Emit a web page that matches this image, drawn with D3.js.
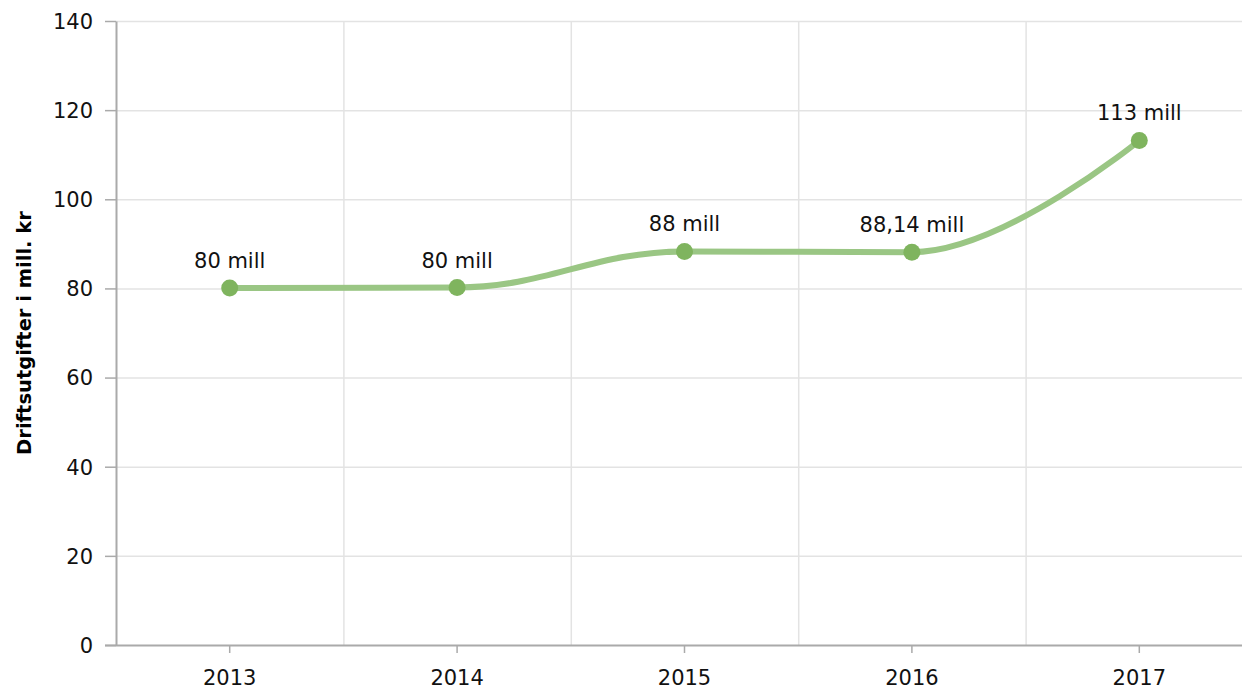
<!DOCTYPE html>
<html>
<head>
<meta charset="utf-8">
<script src="https://cdn.jsdelivr.net/npm/d3@7"></script>
<style>
	body { margin: 0; background: #fff; }
	svg { display: block; }
	svg text { font-family: Verdana, "DejaVu Sans", sans-serif; }
</style>
</head>
<body>
<div id="chart"></div>
<script>
// data
var years      = ['2013', '2014', '2015', '2016', '2017'];
var spending   = [80.1, 80.2, 88.3, 88.14, 113.2];
var labels     = ['80 mill', '80 mill', '88 mill', '88,14 mill', '113 mill'];
var yTicks     = [0, 20, 40, 60, 80, 100, 120, 140];
var yTitle     = 'Driftsutgifter i mill. kr';

var W = 1242, H = 690;
var margin = {top: 21, left: 116, bottom: 45};
var plotRight = 1253;
var fontSize = '21px';

var svg = d3.select('#chart').append('svg')
	.attr('width', W)
	.attr('height', H);

var x = d3.scaleBand().domain(years).range([margin.left, plotRight]);
var y = d3.scaleLinear().domain([0, 140]).range([H - margin.bottom, margin.top]);

function cx (d) { return x(d.year) + x.bandwidth() / 2; }
function cy (d) { return y(d.value); }

// spline path with clamped control points (no overshoot at local extremes)
function splinePath (pts) {
	var p = pts.map(function (d) { return [cx(d), cy(d)]; });
	var ctl = p.map(function (pt, i) {
		if (i === 0 || i === p.length - 1) return null;
		var l = p[i - 1], n = p[i + 1];
		var lx = (1.5 * pt[0] + l[0]) / 2.5, ly = (1.5 * pt[1] + l[1]) / 2.5,
			rx = (1.5 * pt[0] + n[0]) / 2.5, ry = (1.5 * pt[1] + n[1]) / 2.5;
		var corr = ((ry - ly) * (rx - pt[0])) / (rx - lx) + pt[1] - ry;
		ly += corr; ry += corr;
		if (ly > l[1] && ly > pt[1]) { ly = Math.max(l[1], pt[1]); ry = 2 * pt[1] - ly; }
		else if (ly < l[1] && ly < pt[1]) { ly = Math.min(l[1], pt[1]); ry = 2 * pt[1] - ly; }
		if (ry > n[1] && ry > pt[1]) { ry = Math.max(n[1], pt[1]); ly = 2 * pt[1] - ry; }
		else if (ry < n[1] && ry < pt[1]) { ry = Math.min(n[1], pt[1]); ly = 2 * pt[1] - ry; }
		return {lx: lx, ly: ly, rx: rx, ry: ry};
	});
	var path = d3.path();
	path.moveTo(p[0][0], p[0][1]);
	for (var i = 1; i < p.length; i++) {
		var a = ctl[i - 1], b = ctl[i];
		path.bezierCurveTo(
			a ? a.rx : p[i - 1][0], a ? a.ry : p[i - 1][1],
			b ? b.lx : p[i][0], b ? b.ly : p[i][1],
			p[i][0], p[i][1]);
	}
	return path.toString();
}

// grid
svg.append('g')
	.selectAll('line')
	.data(yTicks.slice(1))
	.enter().append('line')
		.attr('x1', margin.left).attr('x2', W)
		.attr('y1', function (d) { return y(d) + 0.5; })
		.attr('y2', function (d) { return y(d) + 0.5; })
		.style('stroke', '#e3e3e3').style('stroke-width', 1.5);

svg.append('g')
	.selectAll('line')
	.data(years.slice(1))
	.enter().append('line')
		.attr('x1', function (d) { return x(d) + 0.5; })
		.attr('x2', function (d) { return x(d) + 0.5; })
		.attr('y1', y(140)).attr('y2', y(0))
		.style('stroke', '#e3e3e3').style('stroke-width', 1.5);

// axes
var yAxis = svg.append('g')
	.attr('transform', 'translate(' + margin.left + ',0)')
	.call(d3.axisLeft(y).tickValues(yTicks).tickSize(11).tickPadding(12).tickSizeOuter(0));
yAxis.select('.domain').style('stroke', '#aaa').style('stroke-width', 2);
yAxis.selectAll('.tick line').style('stroke', '#aaa').style('stroke-width', 1.5);
yAxis.selectAll('.tick text').style('font-size', fontSize).style('fill', '#111').attr('dy', '0.35em');

var xAxis = svg.append('g')
	.attr('transform', 'translate(0,' + y(0) + ')')
	.call(d3.axisBottom(x).tickSize(8).tickPadding(17).tickSizeOuter(0));
xAxis.select('.domain').attr('d', 'M' + (margin.left - 11) + ',0.5H' + W).style('stroke', '#aaa').style('stroke-width', 2);
xAxis.selectAll('.tick line').style('stroke', '#aaa').style('stroke-width', 1.5);
xAxis.selectAll('.tick text').style('font-size', fontSize).style('fill', '#111');

// y title
svg.append('text')
	.attr('transform', 'translate(31,' + ((y(0) + y(140)) / 2) + ') rotate(-90)')
	.attr('text-anchor', 'middle')
	.style('font-size', '19.5px')
	.style('font-weight', 'bold')
	.style('fill', '#000')
	.text(yTitle);

// series
var pts = years.map(function (yr, i) { return {year: yr, value: spending[i], label: labels[i]}; });

svg.append('path')
	.attr('d', splinePath(pts))
	.style('fill', 'none')
	.style('stroke', '#9ac684')
	.style('stroke-width', 6)
	.style('stroke-linecap', 'round');

svg.append('g').selectAll('circle')
	.data(pts)
	.enter().append('circle')
		.attr('cx', cx)
		.attr('cy', cy)
		.attr('r', 8.5)
		.style('fill', '#7fb45e');

svg.append('g').selectAll('text')
	.data(pts)
	.enter().append('text')
		.attr('x', cx)
		.attr('y', function (d) { return cy(d) - 20; })
		.attr('text-anchor', 'middle')
		.style('font-size', fontSize)
		.style('fill', '#111')
		.text(function (d) { return d.label; });
</script>
</body>
</html>
